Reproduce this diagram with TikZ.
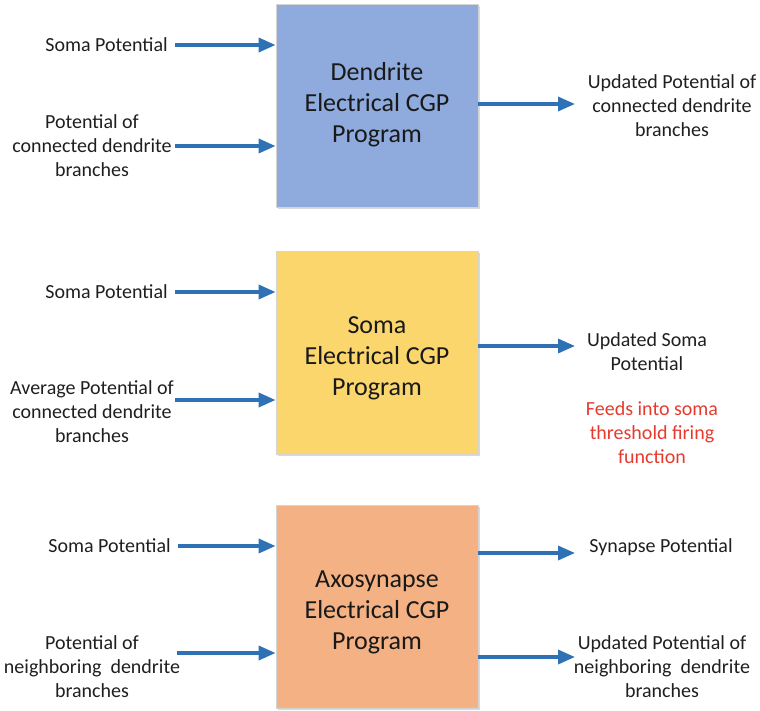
\documentclass[tikz,border=0pt]{standalone}
\usepackage{fontspec}
\setmainfont{Carlito}
\usetikzlibrary{arrows.meta,shadows}
\definecolor{dendblue}{HTML}{8FAADC}
\definecolor{somayellow}{HTML}{FAD66C}
\definecolor{axoorange}{HTML}{F4B183}
\definecolor{arrowblue}{HTML}{2E72B5}
\definecolor{notered}{HTML}{E53B2F}
\definecolor{edgegray}{HTML}{D4D4D4}
\tikzset{
  prog/.style={draw=edgegray, line width=0.8pt, minimum width=202pt, minimum height=203pt,
    drop shadow={shadow xshift=1.5pt, shadow yshift=-1.5pt, opacity=0.25, fill=black!60}},
  progtext/.style={align=center, font=\fontsize{26}{31}\selectfont, text=black!90},
  lbl/.style={align=center, font=\fontsize{20}{24}\selectfont, text=black!88, inner sep=0pt},
  note/.style={lbl, text=notered},
  flow/.style={draw=arrowblue, line width=3.4pt, -{Triangle[length=17pt, width=14pt]}},
}
\begin{document}
\begin{tikzpicture}[x=1pt, y=-1pt]
\useasboundingbox (0,0) rectangle (760,711);

% program boxes
\node[prog, fill=dendblue]   (dend) at (377,106) {};
\node[prog, fill=somayellow] (soma) at (377,353) {};
\node[prog, fill=axoorange]  (axo)  at (377,607) {};
\node[progtext] (dendt) at (377,105) {Dendrite\\Electrical CGP\\Program};
\node[progtext] (somat) at (377,358) {Soma\\Electrical CGP\\Program};
\node[progtext] (axot)  at (377,612) {Axosynapse\\Electrical CGP\\Program};

% dendrite program inputs and output
\node[lbl, anchor=east] (d1) at (168,45) {Soma Potential};
\node[lbl] (d2) at (92,146) {Potential of\\connected dendrite\\branches};
\node[lbl] (d3) at (672,106) {Updated Potential of\\connected dendrite\\branches};
\coordinate (d1s) at (175,45);
\coordinate (d2s) at (175,146);
\coordinate (d3e) at (575,104);
\draw[flow] (d1s) -- (d1s -| dend.west);
\draw[flow] (d2s) -- (d2s -| dend.west);
\draw[flow] (d3e -| dend.east) -- (d3e);

% soma program inputs and output
\node[lbl, anchor=east] (s1) at (168,292) {Soma Potential};
\node[lbl] (s2) at (92,412) {Average Potential of\\connected dendrite\\branches};
\node[lbl] (s3) at (647,352) {Updated Soma\\Potential};
\node[note] (s4) at (652,433) {Feeds into soma\\threshold firing\\function};
\coordinate (s1s) at (175,292);
\coordinate (s2s) at (175,400);
\coordinate (s3e) at (575,346);
\draw[flow] (s1s) -- (s1s -| soma.west);
\draw[flow] (s2s) -- (s2s -| soma.west);
\draw[flow] (s3e -| soma.east) -- (s3e);

% axosynapse program inputs and outputs
\node[lbl, anchor=east] (a1) at (171,546) {Soma Potential};
\node[lbl] (a2) at (92,667) {Potential of\\neighboring~ dendrite\\branches};
\node[lbl] (a3) at (661,547) {Synapse Potential};
\node[lbl] (a4) at (662,667) {Updated Potential of\\neighboring~ dendrite\\branches};
\coordinate (a1s) at (178,546);
\coordinate (a2s) at (177,653);
\coordinate (a3e) at (575,553);
\coordinate (a4e) at (575,657);
\draw[flow] (a1s) -- (a1s -| axo.west);
\draw[flow] (a2s) -- (a2s -| axo.west);
\draw[flow] (a3e -| axo.east) -- (a3e);
\draw[flow] (a4e -| axo.east) -- (a4e);
\end{tikzpicture}
\end{document}
